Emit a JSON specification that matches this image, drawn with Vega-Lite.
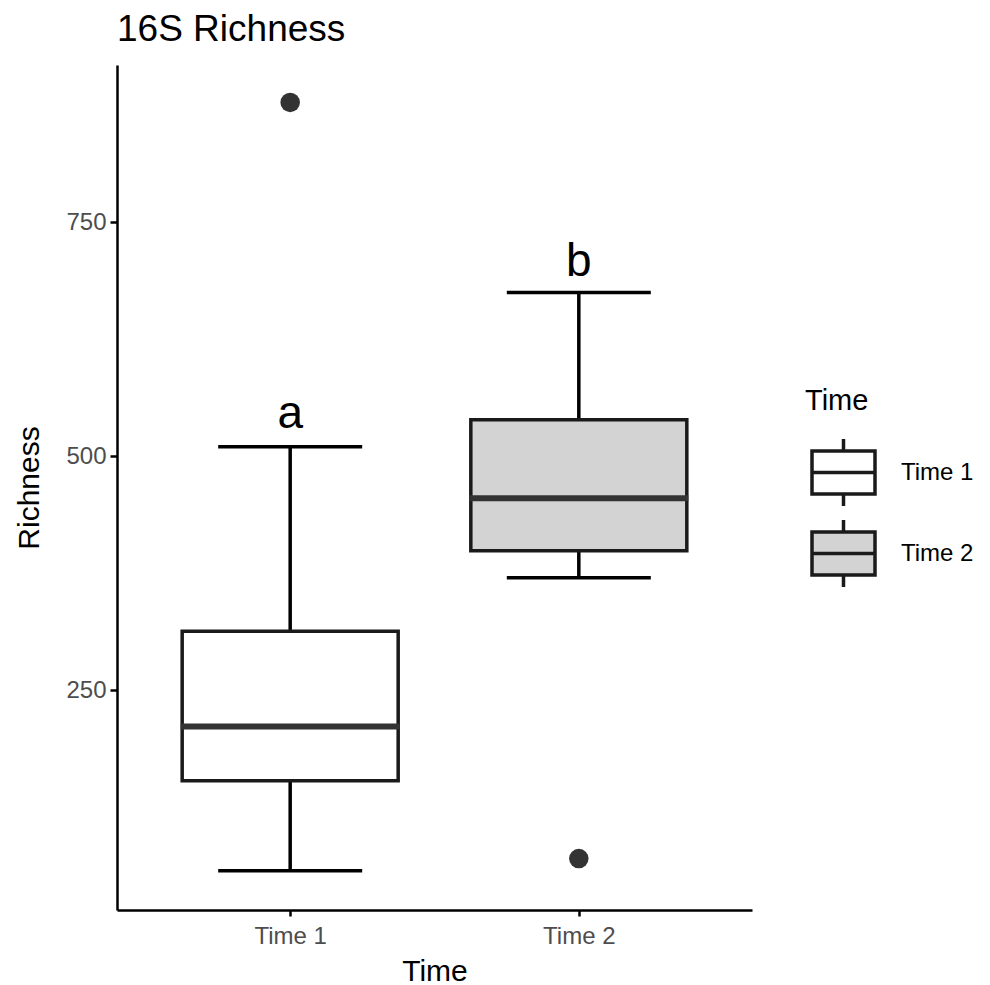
{
  "$schema": "https://vega.github.io/schema/vega-lite/v6.json",
  "width": 635,
  "height": 845,
  "autosize": {"type": "none"},
  "padding": {"left": 117, "top": 65, "right": 238, "bottom": 75},
  "background": "white",
  "config": {
    "font": "Liberation Sans",
    "view": {"stroke": null},
    "axis": {"grid": false}
  },
  "title": {
    "text": "16S Richness",
    "anchor": "start",
    "frame": "group",
    "fontSize": 37,
    "fontWeight": "normal",
    "color": "black",
    "offset": 16
  },
  "datasets": {
    "boxes": [
      {"Time": "Time 1", "lower": 57, "q1": 153, "median": 211, "q3": 313, "upper": 510, "letter": "a", "lettery": 530},
      {"Time": "Time 2", "lower": 370, "q1": 399, "median": 455, "q3": 539, "upper": 675, "letter": "b", "lettery": 693}
    ],
    "outliers": [
      {"Time": "Time 1", "Richness": 878},
      {"Time": "Time 2", "Richness": 70}
    ]
  },
  "encoding": {
    "x": {
      "field": "Time",
      "type": "nominal",
      "scale": {"type": "point", "padding": 0.6},
      "axis": {
        "title": "Time",
        "labelAngle": 0,
        "labelFontSize": 24,
        "labelColor": "#4d4d4d",
        "labelPadding": 8,
        "tickColor": "black",
        "tickSize": 6,
        "tickWidth": 2.5,
        "domainColor": "black",
        "domainWidth": 2.5,
        "titleFontSize": 30,
        "titleFontWeight": "normal",
        "titleColor": "black",
        "titlePadding": 8
      }
    }
  },
  "layer": [
    {
      "data": {"name": "boxes"},
      "mark": {"type": "rule", "color": "black", "strokeWidth": 3.5},
      "encoding": {
        "y": {
          "field": "lower",
          "type": "quantitative",
          "scale": {"domain": [15, 918], "nice": false, "zero": false},
          "axis": {
            "title": "Richness",
            "values": [250, 500, 750],
            "labelFontSize": 24,
            "labelColor": "#4d4d4d",
            "labelPadding": 4,
            "tickColor": "black",
            "tickSize": 7,
            "tickWidth": 2.5,
            "domainColor": "black",
            "domainWidth": 2.5,
            "titleFontSize": 30,
            "titleFontWeight": "normal",
            "titleColor": "black",
            "titlePadding": 21
          }
        },
        "y2": {"field": "upper"}
      }
    },
    {
      "data": {"name": "boxes"},
      "mark": {"type": "tick", "color": "black", "size": 144, "thickness": 3.5, "opacity": 1},
      "encoding": {"y": {"field": "lower", "type": "quantitative"}}
    },
    {
      "data": {"name": "boxes"},
      "mark": {"type": "tick", "color": "black", "size": 144, "thickness": 3.5, "opacity": 1},
      "encoding": {"y": {"field": "upper", "type": "quantitative"}}
    },
    {
      "data": {"name": "boxes"},
      "mark": {"type": "bar", "size": 216, "stroke": "#1a1a1a", "strokeWidth": 3.5, "opacity": 1},
      "encoding": {
        "y": {"field": "q1", "type": "quantitative"},
        "y2": {"field": "q3"},
        "fill": {
          "field": "Time",
          "type": "nominal",
          "scale": {"domain": ["Time 1", "Time 2"], "range": ["#ffffff", "#d3d3d3"]},
          "legend": {
            "title": "Time",
            "orient": "none",
            "legendX": 688,
            "legendY": 322,
            "titleFontSize": 29,
            "titleFontWeight": "normal",
            "titleColor": "black",
            "titlePadding": 23,
            "labelFontSize": 24,
            "labelColor": "black",
            "labelOffset": 24,
            "rowPadding": 0,
            "symbolOffset": 5,
            "symbolType": "M-1,-0.68H1V0.68H-1Z M-1,0H1 M0,-0.68V-1.06 M0,0.68V1.06",
            "symbolSize": 3969,
            "symbolStrokeColor": "#1a1a1a",
            "symbolStrokeWidth": 3.5,
            "symbolOpacity": 1
          }
        }
      }
    },
    {
      "data": {"name": "boxes"},
      "mark": {"type": "tick", "color": "#333333", "size": 219, "thickness": 6, "opacity": 1},
      "encoding": {"y": {"field": "median", "type": "quantitative"}}
    },
    {
      "data": {"name": "outliers"},
      "mark": {"type": "point", "filled": true, "color": "#333333", "size": 380, "opacity": 1},
      "encoding": {"y": {"field": "Richness", "type": "quantitative"}}
    },
    {
      "data": {"name": "boxes"},
      "mark": {"type": "text", "fontSize": 46, "color": "black", "baseline": "alphabetic", "align": "center"},
      "encoding": {
        "y": {"field": "lettery", "type": "quantitative"},
        "text": {"field": "letter"}
      }
    }
  ]
}
